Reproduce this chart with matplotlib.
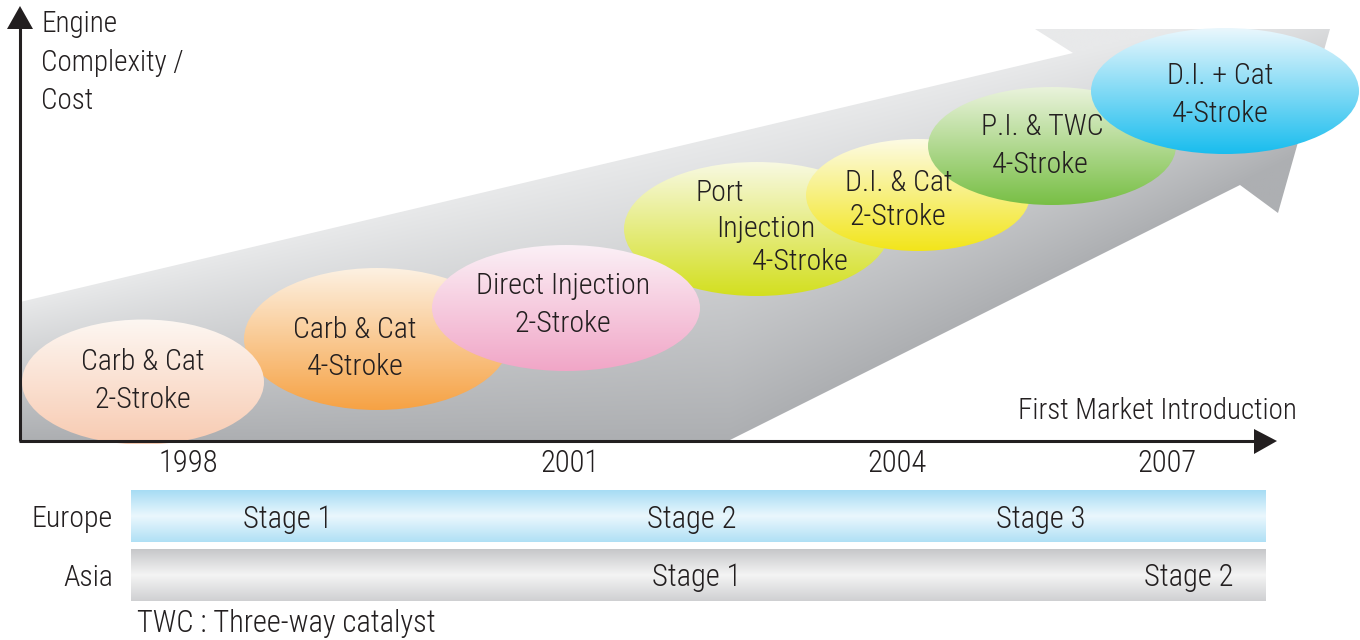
import numpy as np
import matplotlib.pyplot as plt
import matplotlib.patches as patches
from matplotlib.colors import to_rgb

plt.rcParams['font.family'] = ['Roboto Condensed', 'Archivo Narrow', 'PT Sans Narrow',
                               'Liberation Sans Narrow', 'Liberation Sans', 'DejaVu Sans']
plt.rcParams['font.weight'] = 'light'
INK = '#231f20'

# ellipse stages (pixel space of a 1360x640 canvas)
stage_lines = [["Carb & Cat", "2-Stroke"],
               ["Carb & Cat", "4-Stroke"],
               ["Direct Injection", "2-Stroke"],
               ["Port", "Injection", "4-Stroke"],
               ["D.I. & Cat", "2-Stroke"],
               ["P.I. & TWC", "4-Stroke"],
               ["D.I. + Cat", "4-Stroke"]]
stage_cx = [143, 377, 566, 757, 918, 1052, 1225]
stage_cy = [382, 339, 308, 229, 195, 146, 91]
stage_w = [242, 266, 268, 266, 224, 248, 268]
stage_h = [125, 142, 126, 134, 112, 118, 126]
stage_top = ['#fdf7f2', '#fdf1e2', '#fbf0f6', '#f8f9e2', '#fdfbe4', '#eaf3dc', '#eaf7fd']
stage_bot = ['#f8cbb2', '#f6a244', '#f1a6c7', '#d3df1f', '#f2e51a', '#78bf45', '#19bdee']
stage_z = [3, 2, 4, 3, 5, 6, 7]
# text anchors: (x, y, ha) per line
text_pos = [[(143, 362, 'center'), (143, 400, 'center')],
            [(355, 330, 'center'), (355, 367, 'center')],
            [(563, 286, 'center'), (563, 324, 'center')],
            [(695, 193, 'left'), (716, 229, 'left'), (752, 262, 'left')],
            [(899, 183, 'center'), (898, 217, 'center')],
            [(1042, 127, 'center'), (1040, 165, 'center')],
            [(1220, 76, 'center'), (1220, 114, 'center')]]

years = ['1998', '2001', '2004', '2007']
year_x = [188, 570, 897, 1167]

regions = ['Europe', 'Asia']
region_y = [516, 575]
europe_stages = ['Stage 1', 'Stage 2', 'Stage 3']
europe_x = [288, 692, 1041]
asia_stages = ['Stage 1', 'Stage 2']
asia_x = [697, 1189]

fig = plt.figure(figsize=(13.6, 6.4), dpi=100)
ax = fig.add_axes([0, 0, 1, 1])
ax.axis('off')


def vgrad(c_top, c_bot, n=256):
    a = np.array(to_rgb(c_top))
    b = np.array(to_rgb(c_bot))
    t = np.linspace(0, 1, n)[:, None]
    return (a + (b - a) * t)[:, None, :]


# big gray arrow
arrow_pts = [(20, 440), (20, 302), (1073, 53), (1035, 29), (1330, 29),
             (1278, 213), (1240, 185), (730, 440)]
arrow = patches.Polygon(arrow_pts, closed=True, facecolor='none', edgecolor='none')
ax.add_patch(arrow)
gx, gy = np.meshgrid(np.linspace(20, 1330, 400), np.linspace(29, 440, 200))
y_up = 302 - 0.2364 * (gx - 20)
y_lo = np.minimum(440, 440 - 0.5 * (gx - 730))
t = np.clip((gy - y_up) / np.maximum(y_lo - y_up, 1), 0, 1)
light = np.array(to_rgb('#e8e9ea'))
dark = np.array(to_rgb('#adafb2'))
img = light + (dark - light) * t[..., None]
im = ax.imshow(img, extent=(20, 1330, 440, 29), aspect='auto',
               interpolation='bilinear', zorder=1)
im.set_clip_path(arrow)

# stage ellipses
for i in range(len(stage_lines)):
    cx, cy, w, h = stage_cx[i], stage_cy[i], stage_w[i], stage_h[i]
    e = patches.Ellipse((cx, cy), w, h, facecolor='none', edgecolor='none')
    ax.add_patch(e)
    im = ax.imshow(vgrad(stage_top[i], stage_bot[i]),
                   extent=(cx - w / 2, cx + w / 2, cy + h / 2, cy - h / 2),
                   aspect='auto', interpolation='bilinear', zorder=stage_z[i])
    im.set_clip_path(e)
    for line, (tx, ty, ha) in zip(stage_lines[i], text_pos[i]):
        ax.text(tx, ty, line, ha=ha, va='center', fontsize=21.5, color=INK, zorder=10)

# axes
ax.plot([20, 20], [441, 28], color=INK, lw=2.2, solid_capstyle='butt', zorder=9)
ax.add_patch(patches.Polygon([(7, 29), (33, 29), (20, 6)], closed=True,
                             facecolor=INK, edgecolor='none', zorder=9))
ax.plot([19, 1256], [441, 441], color=INK, lw=2.2, solid_capstyle='butt', zorder=9)
ax.add_patch(patches.Polygon([(1254, 429), (1254, 454), (1277, 441)], closed=True,
                             facecolor=INK, edgecolor='none', zorder=9))

ax.text(41, 24, 'Engine', ha='left', va='center', fontsize=21, color=INK)
ax.text(41, 63, 'Complexity /', ha='left', va='center', fontsize=21, color=INK)
ax.text(41, 101, 'Cost', ha='left', va='center', fontsize=21, color=INK)
ax.text(1297, 411, 'First Market Introduction', ha='right', va='center',
        fontsize=21, color=INK)

for yr, x in zip(years, year_x):
    ax.text(x, 463, yr, ha='center', va='center', fontsize=22, color=INK)

# regulation bars
bar_colors = [('#a6dcf4', '#eaf7fd', '#b0e0f5'), ('#c6c7c9', '#f4f4f4', '#cfd0d2')]
for (c0, c1, c2), yc in zip(bar_colors, region_y):
    grad = np.vstack([vgrad(c0, c1, 128), vgrad(c1, c2, 128)])
    ax.imshow(grad, extent=(131, 1266, yc + 26, yc - 26), aspect='auto',
              interpolation='bilinear', zorder=1)
for name, yc in zip(regions, region_y):
    ax.text(113, yc + 3, name, ha='right', va='center', fontsize=21.5, color=INK)
for s, x in zip(europe_stages, europe_x):
    ax.text(x, region_y[0] + 3, s, ha='center', va='center', fontsize=22, color=INK)
for s, x in zip(asia_stages, asia_x):
    ax.text(x, region_y[1] + 3, s, ha='center', va='center', fontsize=22, color=INK)

ax.text(137, 623, 'TWC : Three-way catalyst', ha='left', va='center',
        fontsize=22, color=INK)

ax.set_xlim(0, 1360)
ax.set_ylim(640, 0)
fig.savefig('out.png', dpi=100)
